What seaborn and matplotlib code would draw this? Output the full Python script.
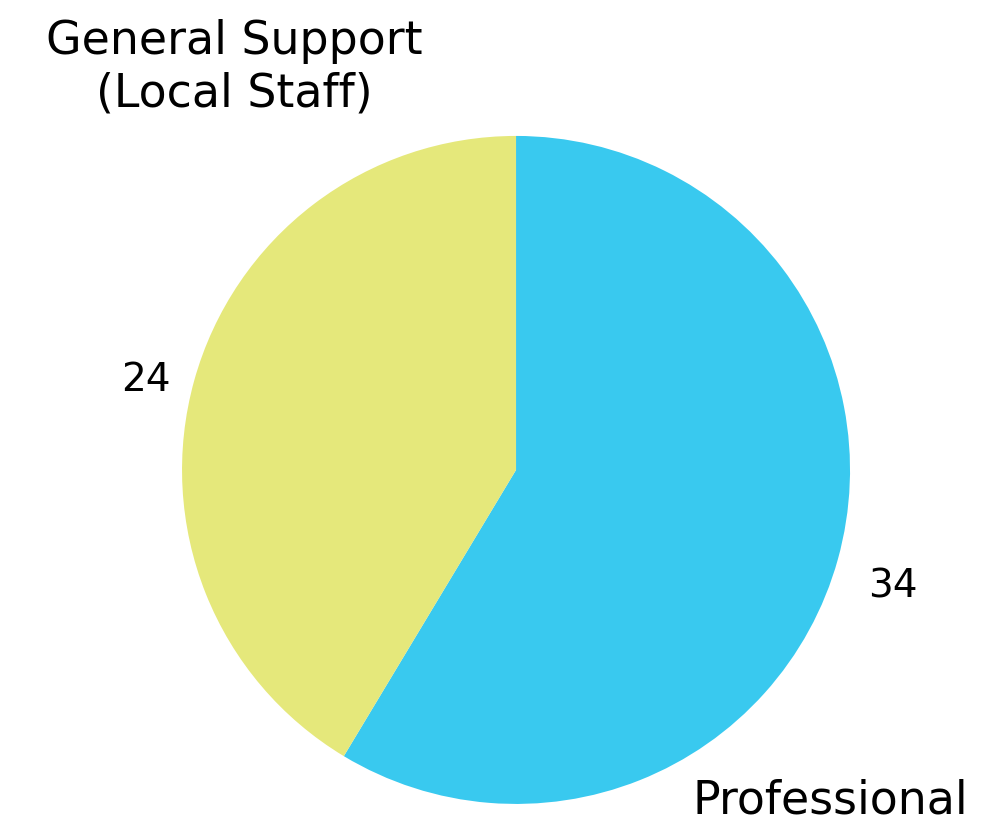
import matplotlib
matplotlib.use("Agg")
import matplotlib.pyplot as plt
import seaborn as sns

categories = ["Professional", "General Support\n(Local Staff)"]
values = [34, 24]
colors = ["#39C9EF", "#E5E87B"]

sns.set_theme(style="white")
plt.rcParams["font.family"] = ["DejaVu Sans"]
plt.rcParams["text.color"] = "black"

fig = plt.figure(figsize=(10, 8.33), dpi=100)
ax = fig.add_axes([0, 0, 1, 1])
total = sum(values)
wedges, texts, autotexts = ax.pie(
    values, colors=colors, startangle=90, counterclock=False,
    autopct=lambda p: f"{p * total / 100:.0f}", pctdistance=1.16,
    wedgeprops=dict(linewidth=0),
    textprops=dict(fontsize=28, color="black"))
for t in autotexts:
    x, y = t.get_position()
    t.set_position((x + 0.01, y - 0.04))
ax.set_xlim(-1.545, 1.449)
ax.set_ylim(-1.087, 1.407)
ax.set_aspect("auto")
ax.axis("off")

ax.text(0.94, -0.99, categories[0], ha="center", va="center", fontsize=33,
        color="black")
ax.text(-0.844, 1.204, categories[1], ha="center", va="center", fontsize=33,
        linespacing=1.19, color="black")

fig.savefig("out.png", dpi=100, facecolor="white")
